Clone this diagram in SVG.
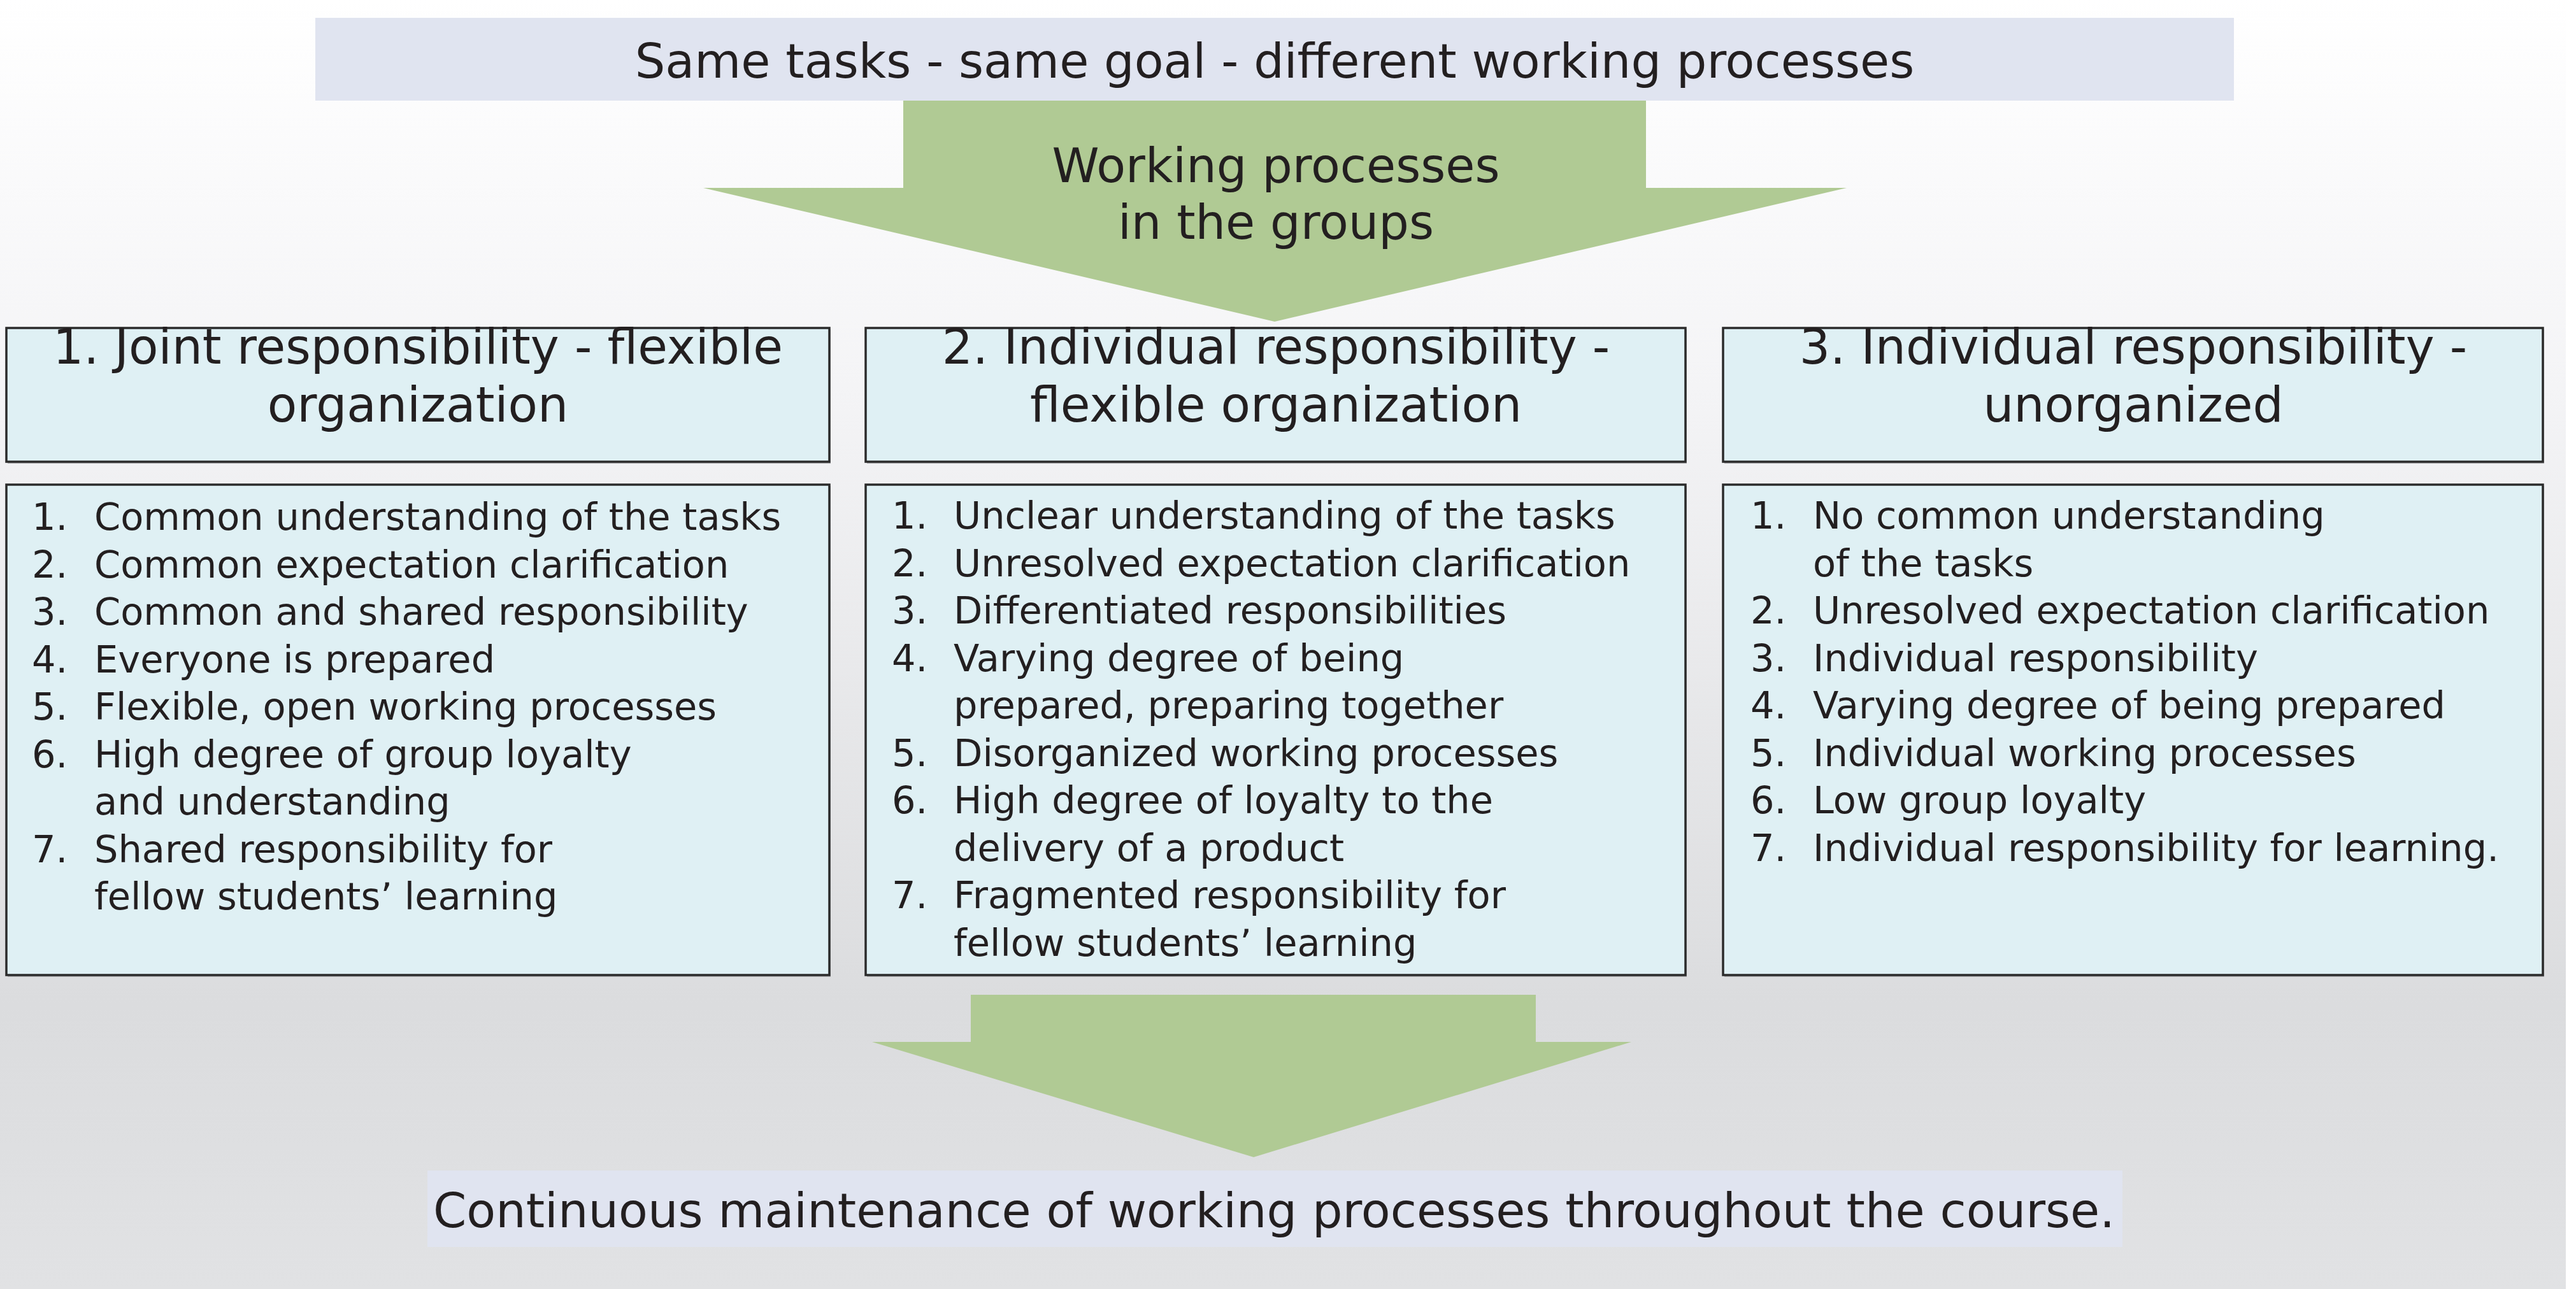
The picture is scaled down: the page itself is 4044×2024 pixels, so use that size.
<svg xmlns="http://www.w3.org/2000/svg" width="4044" height="2024" viewBox="0 0 4044 2024">
<defs>
<linearGradient id="bg" x1="0" y1="0" x2="0" y2="1">
<stop offset="0" stop-color="#ffffff"/>
<stop offset="0.3" stop-color="#f4f4f6"/>
<stop offset="0.78" stop-color="#dbdcde"/>
<stop offset="1" stop-color="#e1e2e4"/>
</linearGradient>
<style>
.t{font-family:"DejaVu Sans","Verdana",sans-serif;fill:#231f20}
.big{font-size:75px}
.hd{font-size:76px;text-anchor:middle}
.li{font-size:59px}
.box{fill:#dff0f4;stroke:#2b2b2b;stroke-width:3.5}
.sh{fill:#8a8a8c;opacity:0.6}
.lav{fill:#e0e4f0}
.arr{fill:#b0ca94}
</style>
</defs>
<rect x="0" y="0" width="4028" height="2024" fill="url(#bg)"/>
<rect x="4028" y="0" width="16" height="2024" fill="#ffffff"/>

<g id="top">
<rect class="lav" x="495" y="28" width="3012" height="130"/>
<text class="t big" x="2001" y="122" text-anchor="middle">Same tasks - same goal - different working processes</text>
</g>

<g id="connectors">
<path id="arrow1" class="arr" d="M1418,158 H2584 V295 H2899 L2001,505 L1104,295 H1418 Z"/>
<path id="arrow2" class="arr" d="M1524,1562 H2411 V1636 H2561 L1968,1817 L1369,1636 H1524 Z"/>
</g>
<g id="arrow1-label">
<text class="t big" x="2003" y="286" text-anchor="middle">Working processes</text>
<text class="t big" x="2003" y="375" text-anchor="middle">in the groups</text>
</g>

<g id="group1">
<rect class="sh" x="12" y="517" width="1292" height="211"/>
<rect class="box" x="10" y="515" width="1292" height="210"/>
<text class="t hd" x="656" y="571">1. Joint responsibility - flexible</text>
<text class="t hd" x="656" y="662">organization</text>
<rect class="sh" x="12" y="763" width="1292" height="771"/>
<rect class="box" x="10" y="761" width="1292" height="770"/>
<g class="t li">
<text x="50" y="832">1.</text><text x="148" y="832">Common understanding of the tasks</text>
<text x="50" y="907">2.</text><text x="148" y="907">Common expectation clarification</text>
<text x="50" y="981">3.</text><text x="148" y="981">Common and shared responsibility</text>
<text x="50" y="1056">4.</text><text x="148" y="1056">Everyone is prepared</text>
<text x="50" y="1130">5.</text><text x="148" y="1130">Flexible, open working processes</text>
<text x="50" y="1205">6.</text><text x="148" y="1205">High degree of group loyalty</text>
<text x="148" y="1279">and understanding</text>
<text x="50" y="1354">7.</text><text x="148" y="1354">Shared responsibility for</text>
<text x="148" y="1428">fellow students’ learning</text>
</g>
</g>

<g id="group2">
<rect class="sh" x="1361" y="517" width="1287" height="211"/>
<rect class="box" x="1359" y="515" width="1287" height="210"/>
<text class="t hd" x="2003" y="571">2. Individual responsibility -</text>
<text class="t hd" x="2003" y="662">flexible organization</text>
<rect class="sh" x="1361" y="763" width="1287" height="771"/>
<rect class="box" x="1359" y="761" width="1287" height="770"/>
<g class="t li">
<text x="1400" y="830">1.</text><text x="1497" y="830">Unclear understanding of the tasks</text>
<text x="1400" y="905">2.</text><text x="1497" y="905">Unresolved expectation clarification</text>
<text x="1400" y="979">3.</text><text x="1497" y="979">Differentiated responsibilities</text>
<text x="1400" y="1054">4.</text><text x="1497" y="1054">Varying degree of being</text>
<text x="1497" y="1128">prepared, preparing together</text>
<text x="1400" y="1203">5.</text><text x="1497" y="1203">Disorganized working processes</text>
<text x="1400" y="1277">6.</text><text x="1497" y="1277">High degree of loyalty to the</text>
<text x="1497" y="1352">delivery of a product</text>
<text x="1400" y="1426">7.</text><text x="1497" y="1426">Fragmented responsibility for</text>
<text x="1497" y="1501">fellow students’ learning</text>
</g>
</g>

<g id="group3">
<rect class="sh" x="2707" y="517" width="1287" height="211"/>
<rect class="box" x="2705" y="515" width="1287" height="210"/>
<text class="t hd" x="3349" y="571">3. Individual responsibility -</text>
<text class="t hd" x="3349" y="662">unorganized</text>
<rect class="sh" x="2707" y="763" width="1287" height="771"/>
<rect class="box" x="2705" y="761" width="1287" height="770"/>
<g class="t li">
<text x="2748" y="830">1.</text><text x="2846" y="830">No common understanding</text>
<text x="2846" y="905">of the tasks</text>
<text x="2748" y="979">2.</text><text x="2846" y="979">Unresolved expectation clarification</text>
<text x="2748" y="1054">3.</text><text x="2846" y="1054">Individual responsibility</text>
<text x="2748" y="1128">4.</text><text x="2846" y="1128">Varying degree of being prepared</text>
<text x="2748" y="1203">5.</text><text x="2846" y="1203">Individual working processes</text>
<text x="2748" y="1277">6.</text><text x="2846" y="1277">Low group loyalty</text>
<text x="2748" y="1352">7.</text><text x="2846" y="1352">Individual responsibility for learning.</text>
</g>
</g>

<g id="bottom">
<rect class="lav" x="671" y="1838" width="2661" height="120"/>
<text class="t big" x="2000" y="1927" text-anchor="middle">Continuous maintenance of working processes throughout the course.</text>
</g>
</svg>
